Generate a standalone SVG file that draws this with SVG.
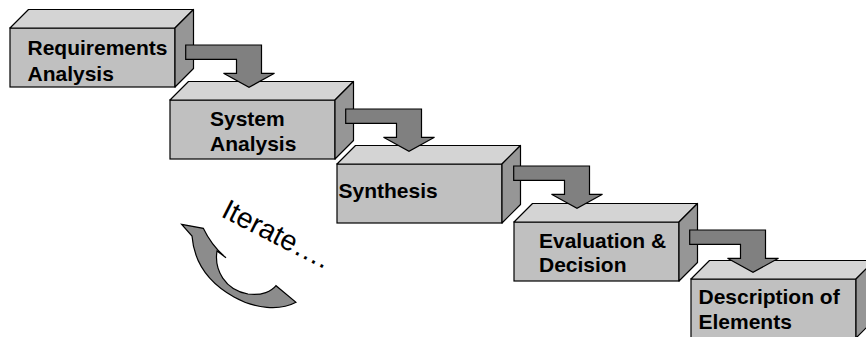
<svg xmlns="http://www.w3.org/2000/svg" xmlns:xlink="http://www.w3.org/1999/xlink" width="866" height="337" viewBox="0 0 866 337">
<style>
.front{fill:#c0c0c0;stroke:#000;stroke-width:1.2}
.top{fill:#d4d4d4;stroke:#000;stroke-width:1.2;stroke-linejoin:round}
.side{fill:#969696;stroke:#000;stroke-width:1.2;stroke-linejoin:round}
.arrow{fill:#808080;stroke:#000;stroke-width:1.2;stroke-linejoin:miter}
.lbl{font-family:"Liberation Sans",Arial,sans-serif;font-weight:bold;font-size:21px;fill:#000}
.iter{font-family:"Liberation Sans",Arial,sans-serif;font-size:28.5px;fill:#000}
</style>
<defs>
<g id="box">
<rect class="front" x="0" y="0" width="165" height="59"/>
<polygon class="top" points="0,0 18.5,-18.5 183.5,-18.5 165,0"/>
<polygon class="side" points="165,0 183.5,-18.5 183.5,40.5 165,59"/>
</g>
<path id="bent" class="arrow" d="M185.7,45 L261.5,45 L261.5,73.3 L274.5,73.3 L249,87.3 L223.5,73.3 L236.5,73.3 L236.5,59.3 L185.7,59.3 Z"/>
</defs>
<g id="node-requirements">
<use xlink:href="#box" transform="translate(10,28)"/>
<text class="lbl" x="27.5" y="55">Requirements</text>
<text class="lbl" x="27.5" y="81">Analysis</text>
</g>
<g id="node-system">
<use xlink:href="#box" transform="translate(170,100)"/>
<text class="lbl" x="210" y="126">System</text>
<text class="lbl" x="210" y="150.7">Analysis</text>
</g>
<g id="node-synthesis">
<use xlink:href="#box" transform="translate(337,164)"/>
<text class="lbl" x="338.5" y="198">Synthesis</text>
</g>
<g id="node-evaluation">
<use xlink:href="#box" transform="translate(514,222)"/>
<text class="lbl" x="539" y="248.3">Evaluation &amp;</text>
<text class="lbl" x="539" y="272.3">Decision</text>
</g>
<g id="node-description">
<use xlink:href="#box" transform="translate(691,279)"/>
<text class="lbl" x="698.5" y="304.3">Description of</text>
<text class="lbl" x="698.5" y="329.3">Elements</text>
</g>
<g id="connectors">
<use xlink:href="#bent"/>
<use xlink:href="#bent" transform="translate(160,64)"/>
<use xlink:href="#bent" transform="translate(328,121)"/>
<use xlink:href="#bent" transform="translate(504,185)"/>
</g>
<g id="iterate">
<path class="arrow" style="fill:#8c8c8c" d="M181.7,224.3 L203.3,228.3 C207,236 214,248 226,257.7 L217,251 C214,270 225,290 248,294 C262,296 272,291 276,285.7 L296,302.3 C280,311 255,309 234,297 C209,283 194,262 192,236 Z"/>
<text class="iter" transform="translate(220,216) rotate(27)">Iterate….</text>
</g>
</svg>
